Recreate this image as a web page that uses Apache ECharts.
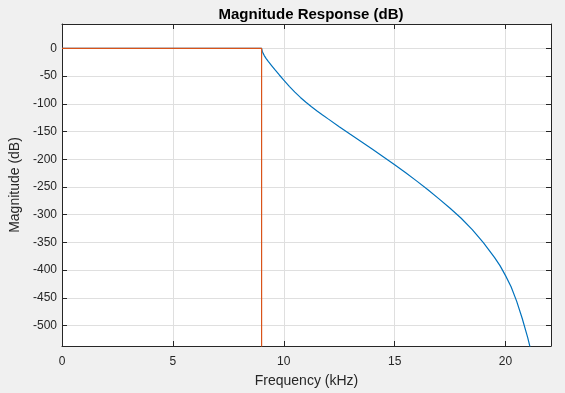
<!DOCTYPE html>
<html>
<head>
<meta charset="utf-8">
<script src="https://cdn.jsdelivr.net/npm/echarts@6/dist/echarts.min.js"></script>
<style>
html,body{margin:0;padding:0;background:#f0f0f0;}
#chart{width:565px;height:393px;}
</style>
</head>
<body>
<div id="chart"></div>
<script>
// Frequency (kHz) and magnitude (dB) of the filter response
var freqResp = [0, 9.0, 9.03, 9.07, 9.12, 9.2, 9.3, 9.45, 9.6, 9.8, 10.0, 10.25, 10.5, 10.75, 11.0, 11.25, 11.5, 11.75, 12.0, 12.5, 13.0, 13.5, 14.0, 14.5, 15.0, 15.5, 16.0, 16.5, 17.0, 17.5, 18.0, 18.5, 19.0, 19.5, 19.75, 20.0, 20.25, 20.5, 20.75, 21.0, 21.1, 21.3];
var magResp  = [0, 0, -5, -9, -13, -18, -23.5, -31, -38.5, -48, -57.2, -68.5, -79, -88.5, -97.3, -105.3, -112.8, -120.1, -127.2, -141.2, -155, -168.6, -182.2, -196, -210, -224.5, -239.5, -255, -271.5, -288.5, -306.5, -327, -350.5, -377, -392, -410, -430, -456, -487, -522, -538, -574];
// Ideal (mask) response
var freqIdeal = [0, 9.0, 9.0];
var magIdeal  = [0, 0, -600];
// Axis settings
var xMin = 0, xMax = 22.05, xStep = 5;
var yMin = -537, yMax = 44, yStep = 50;

function zip(a, b) { return a.map(function (v, i) { return [v, b[i]]; }); }

var font = 'Liberation Sans, Arial, Helvetica, sans-serif';
var dark = '#262626';

var chart = echarts.init(document.getElementById('chart'), null, {renderer: 'canvas'});
var xBase = {
  type: 'value', min: xMin, max: xMax, interval: xStep,
  axisLine: {show: true, onZero: false, lineStyle: {color: dark, width: 1}},
  axisTick: {show: true, inside: true, length: 5, lineStyle: {color: dark}}
};
var yBase = {
  type: 'value', min: yMin, max: yMax, minInterval: yStep, maxInterval: yStep, splitNumber: 11,
  axisLine: {show: true, onZero: false, lineStyle: {color: dark, width: 1}},
  axisTick: {show: true, inside: true, length: 5, lineStyle: {color: dark}}
};
chart.setOption({
  backgroundColor: '#f0f0f0',
  animation: false,
  textStyle: {fontFamily: font},
  title: {
    text: 'Magnitude Response (dB)',
    left: 306, top: 2, textAlign: 'center',
    textStyle: {fontFamily: font, fontSize: 15, fontWeight: 'bold', color: '#000'}
  },
  grid: {left: 62, right: 14, top: 24, bottom: 46, show: true, backgroundColor: '#ffffff', borderWidth: 0},
  xAxis: [
    Object.assign({}, xBase, {
      position: 'bottom',
      name: 'Frequency (kHz)', nameLocation: 'middle', nameGap: 28,
      nameTextStyle: {fontFamily: font, fontSize: 14, color: dark},
      axisLabel: {margin: 10, fontSize: 12, color: dark, fontFamily: font,
        formatter: function (v) { return Math.abs(v % xStep) < 1e-9 ? String(v) : ''; }},
      splitLine: {show: true, lineStyle: {color: '#dfdfdf', width: 1}}
    }),
    Object.assign({}, xBase, {position: 'top', axisLabel: {show: false}, splitLine: {show: false}})
  ],
  yAxis: [
    Object.assign({}, yBase, {
      position: 'left',
      name: 'Magnitude (dB)', nameLocation: 'middle', nameGap: 31, nameRotate: 90,
      nameTextStyle: {fontFamily: font, fontSize: 14, color: dark},
      axisLabel: {margin: 5, fontSize: 12, color: dark, fontFamily: font,
        formatter: function (v) { return Math.abs(v % yStep) < 1e-9 ? String(v) : ''; }},
      splitLine: {show: true, lineStyle: {color: '#dfdfdf', width: 1}}
    }),
    Object.assign({}, yBase, {position: 'right', axisLabel: {show: false}, splitLine: {show: false}})
  ],
  series: [
    {
      type: 'line', xAxisIndex: 0, yAxisIndex: 0, data: zip(freqResp, magResp),
      showSymbol: false, symbol: 'none', clip: true,
      lineStyle: {color: '#0072bd', width: 1.2}
    },
    {
      type: 'line', xAxisIndex: 0, yAxisIndex: 0, data: zip(freqIdeal, magIdeal),
      showSymbol: false, symbol: 'none', clip: true,
      lineStyle: {color: '#d95319', width: 1.2}
    }
  ]
});
</script>
</body>
</html>
